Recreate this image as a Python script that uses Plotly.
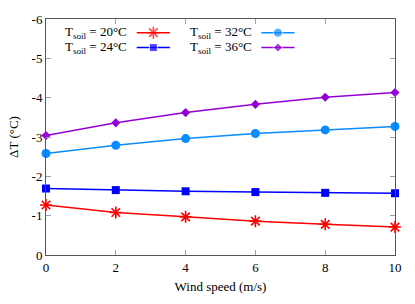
import plotly.graph_objects as go

wind = [0, 2, 4, 6, 8, 10]
dT_20 = [-1.27, -1.08, -0.97, -0.86, -0.78, -0.71]
dT_24 = [-1.69, -1.65, -1.62, -1.60, -1.58, -1.57]
dT_32 = [-2.58, -2.79, -2.96, -3.09, -3.18, -3.27]
dT_36 = [-3.04, -3.36, -3.62, -3.83, -4.01, -4.13]

labels = ["T<sub>soil</sub> = 20°C", "T<sub>soil</sub> = 24°C",
          "T<sub>soil</sub> = 32°C", "T<sub>soil</sub> = 36°C"]
colors = ["#ff0000", "#0000ff", "#0a8cff", "#9400d3"]
symbols = ["asterisk-open", "square", "circle", "diamond"]
sizes = [10, 8, 9, 7]
series = [dT_20, dT_24, dT_32, dT_36]

yticks = [0, -1, -2, -3, -4, -5, -6]
xticks = [0, 2, 4, 6, 8, 10]

FONT = "Times New Roman"

fig = go.Figure()
for s, c, sym, sz in zip(series, colors, symbols, sizes):
    mk = dict(color=c, size=sz, symbol=sym)
    if sym == "asterisk-open":
        mk["line"] = dict(color=c, width=1.6)
    fig.add_trace(go.Scatter(x=wind, y=s, mode="lines+markers",
                             line=dict(color=c, width=1.5), marker=mk,
                             showlegend=False, cliponaxis=False))

# manual gnuplot-style legend (text right-aligned, sample to the right)
leg_pos = [(0.239, 0.942), (0.239, 0.879), (0.596, 0.942), (0.596, 0.879)]
for (tx, ty), lab, c, sym, sz in zip(leg_pos, labels, colors, symbols, sizes):
    x0 = tx + 0.021
    x1 = x0 + 0.095
    mk = dict(color=c, size=[0, sz, 0], symbol=sym)
    if sym == "asterisk-open":
        mk["line"] = dict(color=c, width=1.6)
    fig.add_trace(go.Scatter(x=[x0, (x0 + x1) / 2, x1], y=[ty, ty, ty],
                             mode="lines+markers", xaxis="x2", yaxis="y2",
                             line=dict(color=c, width=1.5), marker=mk,
                             showlegend=False, hoverinfo="skip"))
    fig.add_annotation(x=tx, y=ty, xref="x2", yref="y2", text=lab,
                       showarrow=False, xanchor="right", yanchor="middle",
                       font=dict(family=FONT, size=13, color="#000"))

axis_common = dict(showgrid=False, zeroline=False, ticks="inside", ticklen=5,
                   tickcolor="#a0a0a0", showline=True, linecolor="#555555",
                   linewidth=1, mirror="ticks",
                   tickfont=dict(family=FONT, size=13, color="#000"))

fig.update_layout(
    width=415, height=304,
    margin=dict(l=44, r=20, t=15, b=49),
    paper_bgcolor="white", plot_bgcolor="white",
    font=dict(family=FONT, size=13, color="#000"),
    xaxis=dict(axis_common, range=[0, 10], tickvals=xticks,
               ticktext=[str(v) for v in xticks],
               title=dict(text="Wind speed (m/s)", standoff=8,
                          font=dict(family=FONT, size=13, color="#000"))),
    yaxis=dict(axis_common, range=[0, -6], tickvals=yticks,
               ticktext=[str(v) for v in yticks],
               title=dict(text="ΔT (°C)", standoff=10,
                          font=dict(family=FONT, size=13, color="#000"))),
    xaxis2=dict(overlaying="x", range=[0, 1], visible=False),
    yaxis2=dict(overlaying="y", range=[0, 1], visible=False),
)

fig.write_html("out.html", config={"displayModeBar": False},
               post_script="document.body.style.margin='0px';")
